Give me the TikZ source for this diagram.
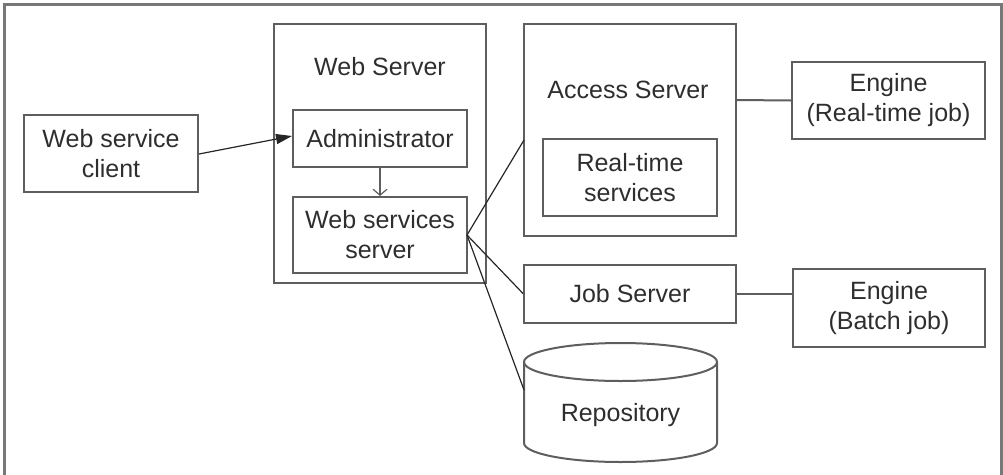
\documentclass[tikz,border=0pt]{standalone}
\usepackage{fontspec}
\setmainfont{Liberation Sans}
\usetikzlibrary{arrows.meta}
\definecolor{boxgray}{HTML}{5E5E5E}
\definecolor{txtgray}{HTML}{2E2E2E}
\definecolor{framegray}{HTML}{777777}
\begin{document}
\begin{tikzpicture}[x=1pt,y=-1pt,
  box/.style={draw=boxgray, line width=2pt, rectangle, inner sep=0pt},
  lbl/.style={text=txtgray, font=\fontsize{25}{30}\selectfont, align=center, inner sep=0pt},
  conn/.style={draw=black!85, line width=1.2pt},
]
\useasboundingbox (0,0) rectangle (1003,474);
% outer frame
\draw[framegray, line width=2.8pt] (4.5,480) -- (4.5,4.5) -- (1001.5,4.5) -- (1001.5,480);

% boxes
\node[box, minimum width=174pt, minimum height=77pt] (client) at (111,153.5) {};
\node[box, minimum width=212pt, minimum height=259pt] (websrv) at (379.5,153.5) {};
\node[box, minimum width=174pt, minimum height=57pt] (admin) at (380,138.5) {};
\node[box, minimum width=174pt, minimum height=76pt] (wss) at (380,235) {};
\node[box, minimum width=212pt, minimum height=212pt] (access) at (630,130) {};
\node[box, minimum width=174pt, minimum height=77pt] (rts) at (630,177.5) {};
\node[box, minimum width=193pt, minimum height=77pt] (engrt) at (888.5,100.5) {};
\node[box, minimum width=212pt, minimum height=58pt] (job) at (630,293.5) {};
\node[box, minimum width=192pt, minimum height=78pt] (engb) at (889,308) {};

% repository cylinder
\draw[boxgray, line width=2pt] (524,362) -- (524,443) arc[start angle=180, end angle=0, x radius=96.5, y radius=19] -- (717,362);
\draw[boxgray, line width=2pt] (620.5,362) ellipse[x radius=96.5, y radius=19];
\coordinate (repoL) at (524,390);

% labels
\node[lbl] (tclient) at (client) {Web service\\client};
\node[lbl, anchor=base] (tweb) at (380,75) {Web Server};
\node[lbl] (tadmin) at (admin) {Administrator};
\node[lbl] (twss) at (wss) {Web services\\server};
\node[lbl, anchor=base] (tacc) at (628,98) {Access Server};
\node[lbl] (trts) at (rts) {Real-time\\services};
\node[lbl] (tengrt) at (engrt) {Engine\\(Real-time job)};
\node[lbl] (tjob) at (job) {Job Server};
\node[lbl] (tengb) at (engb) {Engine\\(Batch job)};
\node[lbl, anchor=base] (trepo) at (620.5,421) {Repository};

% connectors
\coordinate (wssR) at (467,235);
\coordinate (accL) at (524,140);
\draw[conn, -{Triangle[length=16pt,width=10pt]}] (client.east) ++(0,0.5) -- ([yshift=2.5pt]admin.west);
\draw[conn, draw=boxgray, -{Straight Barb[length=6pt,width=14pt]}] (admin.south) -- (wss.north);
\draw[conn] (wssR) -- (accL);
\draw[conn] (wssR) -- (job.west);
\draw[conn] (wssR) -- (repoL);
\draw[conn, draw=boxgray, line width=2pt] (access.east |- 0,100) -- (engrt.west);
\draw[conn, draw=boxgray, line width=2pt] (job.east) -- (engb.west |- job.east);
\end{tikzpicture}
\end{document}
